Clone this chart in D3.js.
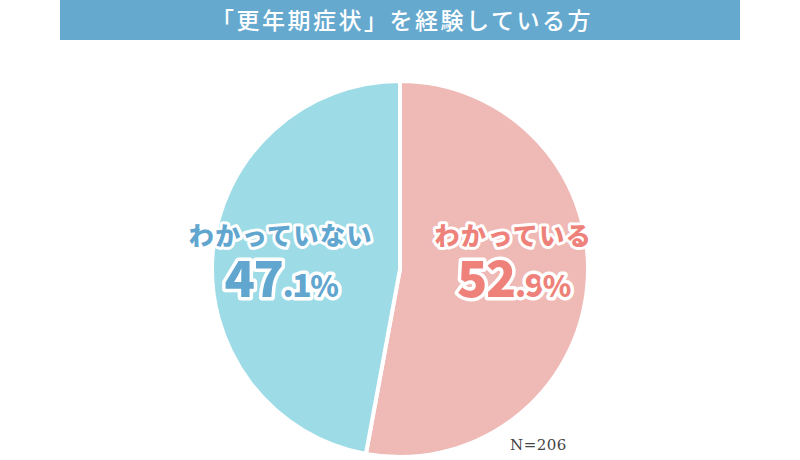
<!DOCTYPE html>
<html>
<head>
<meta charset="utf-8">
<script src="https://cdn.jsdelivr.net/npm/d3@7"></script>
<style>
  html, body { margin: 0; padding: 0; background: #fff; }
  #chart { width: 800px; height: 460px; }
</style>
</head>
<body>
<div id="chart"></div>
<script>
// data
const title = "「更年期症状」を経験している方";
const categories = ["わかっている", "わかっていない"];
const values = [52.9, 47.1];
const sliceColors = ["#efb9b5", "#9ddce6"];
const textColors = ["#ee8179", "#60a6cf"];
const note = "N=206";

const width = 800, height = 460;
const cx = 400, cy = 269, radius = 188;

const svg = d3.select("#chart").append("svg")
  .attr("width", width).attr("height", height);

// title bar
svg.append("rect")
  .attr("x", 60).attr("y", 0).attr("width", 680).attr("height", 40)
  .attr("fill", "#66a9cf");
svg.append("text")
  .attr("x", 402).attr("y", 28.5)
  .attr("text-anchor", "middle")
  .attr("fill", "#fff")
  .attr("font-family", "'Noto Sans CJK JP', sans-serif")
  .attr("font-size", 23)
  .attr("font-weight", 500)
  .attr("letter-spacing", 2.5)
  .text(title);

// pie
const data = categories.map((c, i) => ({ name: c, value: values[i], i }));
const pie = d3.pie().sort(null).value(d => d.value);
const arc = d3.arc().innerRadius(0).outerRadius(radius);
const labelArc = d3.arc().innerRadius(0).outerRadius(radius * 1.2);

const g = svg.append("g").attr("transform", `translate(${cx},${cy})`);
const arcs = pie(data);

g.selectAll("path.slice")
  .data(arcs)
  .join("path")
  .attr("class", "slice")
  .attr("d", arc)
  .attr("fill", d => sliceColors[d.data.i])
  .attr("stroke", "#fff")
  .attr("stroke-width", 4)
  .attr("stroke-linejoin", "round");

// labels
const labels = g.selectAll("g.label")
  .data(arcs)
  .join("g")
  .attr("class", "label")
  .attr("transform", d => `translate(${labelArc.centroid(d)[0] * (d.data.i === 0 ? 1.01 : 1.06)},0)`);

labels.append("text")
  .attr("y", -24)
  .attr("text-anchor", "middle")
  .attr("font-family", "'Noto Sans CJK JP', sans-serif")
  .attr("font-weight", 900)
  .attr("font-size", 25)
  .attr("letter-spacing", 1.5)
  .attr("fill", d => textColors[d.data.i])
  .attr("stroke", "#fff")
  .attr("stroke-width", 6)
  .attr("stroke-linejoin", "round")
  .attr("paint-order", "stroke")
  .text(d => d.data.name);

const pct = labels.append("text")
  .attr("y", 28)
  .attr("text-anchor", "middle")
  .attr("font-family", "'Noto Sans CJK JP', sans-serif")
  .attr("font-weight", 900)
  .attr("letter-spacing", -1.5)
  .attr("fill", d => textColors[d.data.i])
  .attr("stroke", "#fff")
  .attr("stroke-width", 7)
  .attr("stroke-linejoin", "round")
  .attr("paint-order", "stroke");

pct.append("tspan")
  .attr("font-size", 50)
  .text(d => String(d.data.value).split(".")[0]);
pct.append("tspan")
  .attr("font-size", 32)
  .text(d => "." + String(d.data.value).split(".")[1]);
pct.append("tspan")
  .attr("font-size", 29)
  .text("%");

// note
svg.append("text")
  .attr("x", 510).attr("y", 450)
  .attr("fill", "#444")
  .attr("font-family", "'DejaVu Serif', serif")
  .attr("font-size", 15)
  .attr("letter-spacing", 0.5)
  .text(note);
</script>
</body>
</html>
